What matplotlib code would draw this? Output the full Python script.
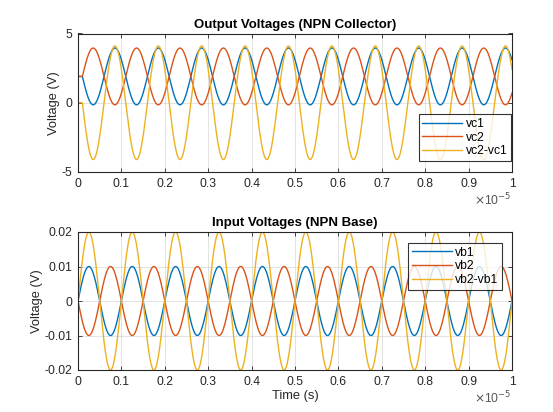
import numpy as np
import matplotlib
matplotlib.use("Agg")
import matplotlib.pyplot as plt

plt.rcParams['font.family'] = ['Liberation Sans', 'DejaVu Sans']

# signal parameters
freq = 1e6            # Hz, 10 periods over 10 us
vc_q = 1.9            # collector quiescent voltage (V)
vc_amp = 2.05         # collector swing (V)
vc_delay = 0.1e-6     # output lags input (s)
vb_amp = 0.01         # base input amplitude (V)
t_end = 1e-5
n_pts = 4001

top_labels = ['vc1', 'vc2', 'vc2-vc1']
bot_labels = ['vb1', 'vb2', 'vb2-vb1']
top_yticks = [-5, 0, 5]
bot_yticks = [-0.02, -0.01, 0, 0.01, 0.02]
xticks = [0, 0.1, 0.2, 0.3, 0.4, 0.5, 0.6, 0.7, 0.8, 0.9, 1]

t = np.linspace(0, t_end, n_pts)
s_out = np.sin(2 * np.pi * freq * np.clip(t - vc_delay, 0, None))
vc2 = vc_q + vc_amp * s_out
vc1 = vc_q - vc_amp * s_out
vc_diff = vc1 - vc2

vb1 = vb_amp * np.sin(2 * np.pi * freq * t)
vb2 = -vb1
vb_diff = vb1 - vb2

colors = ['#0072BD', '#D95319', '#EDB120']
txt = '#262626'
ts = t / 1e-5

fig = plt.figure(figsize=(5.53, 4.12), dpi=100)
ax1 = fig.add_axes([78 / 553, 1 - 172 / 412, 434 / 553, 138.5 / 412])
ax2 = fig.add_axes([78 / 553, 1 - 370 / 412, 434 / 553, 138 / 412])


def style(ax, yticks, ylim):
    ax.set_xlim(0, 1)
    ax.set_ylim(*ylim)
    ax.set_xticks(xticks)
    ax.set_xticklabels([('%g' % v) for v in xticks])
    ax.set_yticks(yticks)
    ax.set_yticklabels([('%g' % v) for v in yticks])
    ax.grid(True, color='#262626', alpha=0.15, lw=0.6)
    ax.tick_params(direction='in', length=3, width=0.6, top=True, right=True,
                   labelsize=8.7, colors=txt, pad=4)
    for sp in ax.spines.values():
        sp.set_linewidth(0.8)
        sp.set_color(txt)
    ax.set_axisbelow(True)
    ax.text(1.0, -0.2, r'$\times$10$^{-5}$', transform=ax.transAxes,
            ha='right', va='center', fontsize=8.7, color='#555555')


def add_legend(ax, loc, anchor):
    leg = ax.legend(loc=loc, bbox_to_anchor=anchor, fontsize=8.7, frameon=True,
                    fancybox=False, edgecolor='black', borderpad=0.3,
                    handlelength=3.3, handletextpad=0.3, labelspacing=0.15,
                    borderaxespad=0)
    leg.get_frame().set_linewidth(0.8)


for y, lab, c in zip([vc1, vc2, vc_diff], top_labels, colors):
    ax1.plot(ts, y, color=c, lw=1.0, label=lab)
style(ax1, top_yticks, (-5, 5))
ax1.set_title('Output Voltages (NPN Collector)', fontsize=9.5, fontweight='bold',
              color='black', pad=4)
ax1.set_ylabel('Voltage (V)', fontsize=9.3, color=txt, labelpad=1)
add_legend(ax1, 'lower right', ((511 - 78) / 434, (172 - 161) / 138.5))

for y, lab, c in zip([vb1, vb2, vb_diff], bot_labels, colors):
    ax2.plot(ts, y, color=c, lw=1.0, label=lab)
style(ax2, bot_yticks, (-0.02, 0.02))
ax2.set_title('Input Voltages (NPN Base)', fontsize=9.5, fontweight='bold',
              color='black', pad=4)
ax2.set_ylabel('Voltage (V)', fontsize=9.3, color=txt, labelpad=1)
ax2.set_xlabel('Time (s)', fontsize=9.3, color=txt, labelpad=2)
add_legend(ax2, 'upper right', ((502 - 78) / 434, (370 - 243) / 138))

fig.savefig('out.png', dpi=100, facecolor='white')
